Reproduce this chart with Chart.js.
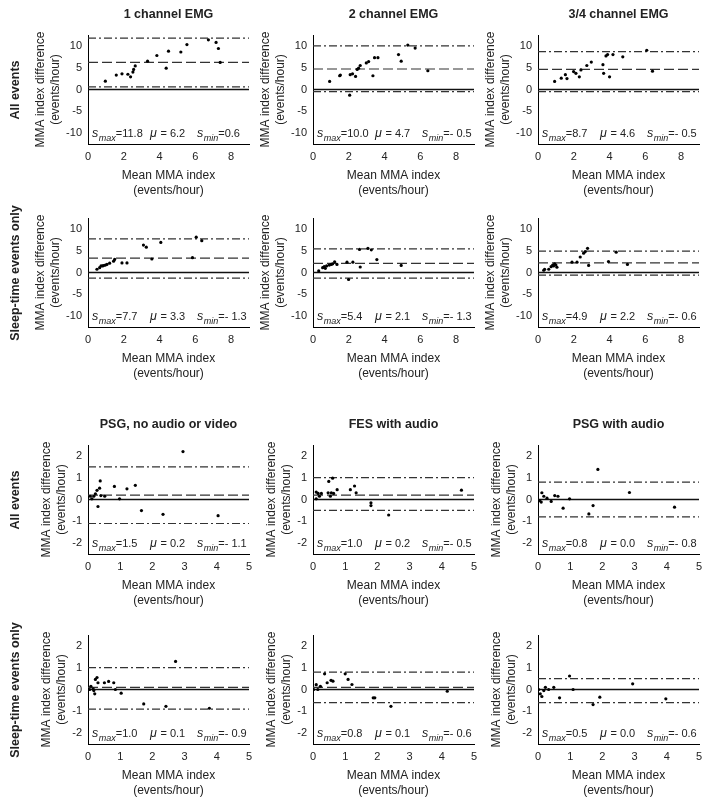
<!DOCTYPE html>
<html>
<head>
<meta charset="utf-8">
<script src="https://cdn.jsdelivr.net/npm/chart.js@4"></script>
<style>
  body { margin: 0; background: #fff; }
  #fig { position: relative; width: 708px; height: 799px; background: #fff; overflow: hidden; }
  #fig canvas { position: absolute; }
  .rowlab {
    position: absolute; white-space: nowrap; color: #222;
    font: bold 12.5px "Liberation Sans", Arial, sans-serif;
    transform: translate(-50%, -50%) rotate(-90deg);
  }
</style>
</head>
<body>
<div id="fig"></div>
<script>
// tick labels
const emgTicksX = [0, 2, 4, 6, 8];
const emgTicksY = [-10, -5, 0, 5, 10];
const modTicksX = [0, 1, 2, 3, 4, 5];
const modTicksY = [-2, -1, 0, 1, 2];

const panelTitles = ['1 channel EMG', '2 channel EMG', '3/4 channel EMG', '', '', '',
  'PSG, no audio or video', 'FES with audio', 'PSG with audio', '', '', ''];
const rowLabels = ['All events', 'Sleep-time events only', 'All events', 'Sleep-time events only'];

// limits of agreement (upper, mean, lower) for each panel
const sMax = [11.8, 10.0, 8.7, 7.7, 5.4, 4.9, 1.5, 1.0, 0.8, 1.0, 0.8, 0.5];
const mu   = [6.2, 4.7, 4.6, 3.3, 2.1, 2.2, 0.2, 0.2, 0.0, 0.1, 0.1, 0.0];
const sMin = [0.6, -0.5, -0.5, -1.3, -1.3, -0.6, -1.1, -0.5, -0.8, -0.9, -0.6, -0.6];

// mean MMA index / index difference, per panel
const oneChAllMean = [0.97, 1.58, 1.9, 2.23, 2.38, 2.51, 2.55, 2.64, 3.33, 3.85, 4.37, 4.5, 5.19, 5.53, 6.73, 7.16, 7.29, 7.39];
const oneChAllDiff = [1.9, 3.3, 3.6, 3.5, 2.9, 4.0, 4.6, 5.4, 6.5, 7.8, 4.9, 8.8, 8.6, 10.3, 11.4, 10.8, 9.4, 6.2];
const twoChAllMean = [0.93, 1.49, 1.53, 2.05, 2.08, 2.21, 2.38, 2.47, 2.55, 2.64, 2.98, 3.11, 3.35, 3.44, 3.63, 4.78, 4.93, 5.3, 5.71, 6.42];
const twoChAllDiff = [1.85, 3.15, 3.3, -1.3, 3.4, 3.6, 3.0, 4.6, 4.9, 5.5, 6.1, 6.4, 3.15, 7.3, 7.3, 8.0, 6.5, 10.2, 9.5, 4.3];
const threeChAllMean = [0.93, 1.3, 1.53, 1.62, 1.99, 2.12, 2.31, 2.4, 2.73, 2.98, 3.63, 3.67, 3.8, 3.89, 4.0, 4.19, 4.74, 6.08, 6.4];
const threeChAllDiff = [1.85, 2.6, 3.4, 2.5, 4.1, 3.7, 2.9, 4.5, 5.5, 6.3, 5.7, 3.7, 7.7, 8.0, 2.9, 8.0, 7.5, 9.0, 4.2];

const oneChSleepMean = [0.5, 0.65, 0.73, 0.82, 0.87, 0.97, 1.06, 1.21, 1.43, 1.49, 1.9, 2.18, 3.1, 3.26, 3.57, 4.07, 5.84, 6.05, 6.36];
const oneChSleepDiff = [0.74, 1.1, 1.5, 1.5, 1.6, 1.7, 1.85, 2.15, 2.6, 3.0, 2.2, 2.2, 6.3, 5.8, 3.1, 6.9, 3.4, 8.1, 7.3];
const twoChSleepMean = [0.32, 0.54, 0.63, 0.69, 0.76, 0.91, 1.02, 1.1, 1.21, 1.34, 1.9, 1.99, 2.23, 2.6, 2.64, 3.07, 3.26, 3.57, 4.93];
const twoChSleepDiff = [0.37, 1.1, 1.33, 0.96, 1.5, 1.7, 1.85, 2.0, 2.44, 1.85, 2.37, -1.6, 2.37, 5.3, 1.26, 5.55, 5.2, 2.96, 1.63];
const threeChSleepMean = [0.32, 0.37, 0.6, 0.73, 0.82, 0.87, 0.93, 1.0, 1.06, 1.9, 2.18, 2.36, 2.55, 2.64, 2.77, 2.83, 3.94, 4.37, 5.0];
const threeChSleepDiff = [0.52, 0.74, 0.74, 1.33, 1.7, 1.5, 2.0, 1.7, 1.2, 2.37, 2.37, 3.55, 4.44, 4.8, 5.55, 1.63, 2.5, 4.67, 1.85];

const psgAllMean = [0.07, 0.12, 0.18, 0.23, 0.28, 0.31, 0.36, 0.38, 0.4, 0.52, 0.82, 0.98, 1.21, 1.47, 1.66, 2.33, 2.95, 4.04];
const psgAllDiff = [0.15, 0.03, 0.15, 0.26, 0.42, -0.32, 0.52, 0.85, 0.18, 0.15, 0.6, 0.03, 0.49, 0.65, -0.51, -0.68, 2.2, -0.74];
const fesAllMean = [0.1, 0.1, 0.16, 0.2, 0.26, 0.47, 0.49, 0.54, 0.57, 0.61, 0.64, 0.75, 1.16, 1.29, 1.34, 1.8, 1.8, 2.35, 4.61];
const fesAllDiff = [0.03, 0.34, 0.28, 0.15, 0.28, 0.31, 0.83, 0.15, 0.31, 0.98, 0.28, 0.45, 0.45, 0.62, 0.31, -0.15, -0.28, -0.71, 0.43];
const psgAudioAllMean = [0.05, 0.1, 0.12, 0.18, 0.28, 0.41, 0.52, 0.62, 0.78, 0.98, 1.58, 1.71, 1.86, 2.84, 4.24];
const psgAudioAllDiff = [-0.05, -0.12, 0.31, 0.15, 0.06, -0.09, 0.18, 0.15, -0.4, 0.03, -0.66, -0.28, 1.38, 0.32, -0.35];

const psgSleepMean = [0.05, 0.09, 0.16, 0.18, 0.21, 0.23, 0.28, 0.31, 0.51, 0.64, 0.8, 0.85, 1.03, 1.73, 2.42, 2.72, 3.77];
const psgSleepDiff = [0, 0.15, 0.03, -0.05, -0.2, 0.46, 0.55, 0.31, 0.31, 0.37, 0.31, 0.0, -0.17, -0.66, -0.77, 1.29, -0.86];
const fesSleepMean = [0.02, 0.1, 0.15, 0.23, 0.36, 0.44, 0.56, 0.62, 1.0, 1.09, 1.21, 1.87, 1.92, 2.42, 4.17];
const fesSleepDiff = [0, 0.22, 0, 0.15, 0.72, 0.31, 0.42, 0.38, 0.72, 0.46, 0.23, -0.38, -0.38, -0.77, -0.08];
const psgAudioSleepMean = [0.02, 0.07, 0.12, 0.18, 0.23, 0.33, 0.49, 0.67, 0.98, 1.09, 1.71, 1.92, 2.94, 3.97];
const psgAudioSleepDiff = [0, -0.2, -0.32, -0.05, 0.1, 0, 0.1, -0.38, 0.62, 0, -0.69, -0.35, 0.26, -0.43];

const means = [oneChAllMean, twoChAllMean, threeChAllMean, oneChSleepMean, twoChSleepMean, threeChSleepMean,
  psgAllMean, fesAllMean, psgAudioAllMean, psgSleepMean, fesSleepMean, psgAudioSleepMean];
const diffs = [oneChAllDiff, twoChAllDiff, threeChAllDiff, oneChSleepDiff, twoChSleepDiff, threeChSleepDiff,
  psgAllDiff, fesAllDiff, psgAudioAllDiff, psgSleepDiff, fesSleepDiff, psgAudioSleepDiff];

// layout of the grid
const FONT = '"Liberation Sans", Arial, sans-serif';
const colLeft = [88, 313, 538];
const rowTop = [35, 218, 445, 635];
const plotW = 161, plotH = 109;
const padL = 70, padT = 35, padR = 10, padB = 60;

Chart.defaults.font.family = FONT;
Chart.defaults.color = '#222';

function fmt(v) {
  return v < 0 ? '- ' + Math.abs(v).toFixed(1) : v.toFixed(1);
}

// s_max / mu / s_min readout and panel title
const panelText = {
  id: 'panelText',
  afterDraw(chart, args, opts) {
    const {ctx, chartArea: a} = chart;
    const y = chart.scales.y;
    ctx.save();
    ctx.fillStyle = '#222';
    if (opts.title) {
      ctx.font = 'bold 12.5px ' + FONT;
      ctx.textAlign = 'center';
      ctx.textBaseline = 'middle';
      ctx.fillText(opts.title, (a.left + a.right) / 2, a.top - 20);
    }
    ctx.textAlign = 'left';
    ctx.textBaseline = 'alphabetic';
    const base = y.getPixelForValue(opts.textAt) + 4;

    function stat(x, sym, sub, rest) {
      ctx.font = 'italic 12.5px ' + FONT;
      ctx.fillText(sym, x, base);
      x += ctx.measureText(sym).width + 0.5;
      if (sub) {
        ctx.font = 'italic 9px ' + FONT;
        ctx.fillText(sub, x, base + 3.5);
        x += ctx.measureText(sub).width;
      }
      ctx.font = '11px ' + FONT;
      ctx.fillText(rest, x, base);
    }
    stat(a.left + 4, 's', 'max', '=' + fmt(opts.sMax));
    stat(a.left + 62, 'μ', '', ' = ' + fmt(opts.mu));
    stat(a.left + 109, 's', 'min', '=' + fmt(opts.sMin));
    ctx.restore();
  }
};

function refLine(v, xMax, dash, width, color) {
  return {
    type: 'line',
    data: [{x: 0, y: v}, {x: xMax, y: v}],
    borderColor: color,
    borderWidth: width,
    borderDash: dash,
    pointRadius: 0,
    fill: false
  };
}

const fig = document.getElementById('fig');

for (let i = 0; i < 12; i++) {
  const row = Math.floor(i / 3), col = i % 3;
  const emg = row < 2;
  const xMax = emg ? 9 : 5;
  const yLim = emg ? 12.5 : 2.5;
  const ticksX = emg ? emgTicksX : modTicksX;
  const ticksY = emg ? emgTicksY : modTicksY;

  const canvas = document.createElement('canvas');
  canvas.width = padL + plotW + padR;
  canvas.height = padT + plotH + padB;
  canvas.style.left = (colLeft[col] - padL) + 'px';
  canvas.style.top = (rowTop[row] - padT) + 'px';
  canvas.style.width = canvas.width + 'px';
  canvas.style.height = canvas.height + 'px';
  fig.appendChild(canvas);

  const pts = means[i].map((m, k) => ({x: m, y: diffs[i][k]}));

  new Chart(canvas.getContext('2d'), {
    type: 'scatter',
    data: {
      datasets: [
        {data: pts, pointRadius: 1.6, pointBackgroundColor: '#000', pointBorderWidth: 0},
        refLine(0, xMax, [], 1.5, '#111'),
        refLine(mu[i], xMax, [10, 4], 1.2, '#333'),
        refLine(sMax[i], xMax, [8, 3, 2, 3], 1.2, '#333'),
        refLine(sMin[i], xMax, [8, 3, 2, 3], 1.2, '#333')
      ]
    },
    options: {
      responsive: false,
      animation: false,
      events: [],
      layout: {padding: {left: 0, top: padT, right: padR, bottom: 0}},
      plugins: {
        legend: {display: false},
        tooltip: {enabled: false},
        panelText: {title: panelTitles[i], sMax: sMax[i], mu: mu[i], sMin: sMin[i], textAt: emg ? -10 : -2}
      },
      scales: {
        x: {
          type: 'linear', min: 0, max: xMax,
          grid: {display: false, drawTicks: false},
          border: {display: true, color: '#000', width: 1},
          ticks: {font: {size: 11}, color: '#222', padding: 6},
          afterBuildTicks: s => { s.ticks = ticksX.map(v => ({value: v})); },
          afterFit: s => { s.height = padB; },
          title: {
            display: true, text: ['Mean MMA index', '(events/hour)'],
            font: {size: 12, lineHeight: 1.25}, color: '#222',
            padding: {top: 0, bottom: 6}
          }
        },
        y: {
          type: 'linear', min: -yLim, max: yLim,
          grid: {display: false, drawTicks: false},
          border: {display: true, color: '#000', width: 1},
          ticks: {font: {size: 11}, color: '#222', padding: 6},
          afterBuildTicks: s => { s.ticks = ticksY.map(v => ({value: v})); },
          afterFit: s => { s.width = padL; },
          title: {
            display: true, text: ['MMA index difference', '(events/hour)'],
            font: {size: 12, lineHeight: 1.25}, color: '#222',
            padding: {top: emg ? 15.5 : 21.5, bottom: 0}
          }
        }
      }
    },
    plugins: [panelText]
  });
}

rowLabels.forEach((txt, r) => {
  const d = document.createElement('div');
  d.className = 'rowlab';
  d.textContent = txt;
  d.style.left = '15px';
  d.style.top = (rowTop[r] + plotH / 2) + 'px';
  fig.appendChild(d);
});
</script>
</body>
</html>
